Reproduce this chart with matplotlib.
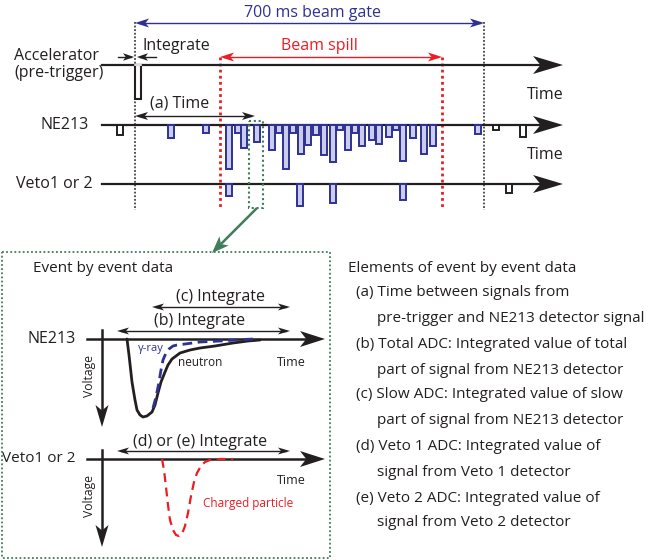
import matplotlib
matplotlib.use("Agg")
import matplotlib.pyplot as plt
from matplotlib.patches import Polygon, Rectangle
import numpy as np

plt.rcParams['font.family'] = ['Open Sans', 'DejaVu Sans']

# ---------------- data (pixel-space schematic) ----------------
GATE = (135, 484)          # 700 ms beam gate start / end
SPILL = (220, 442)         # beam spill start / end
ACC_PULSE_X = 138
ACC_PULSE_DEPTH = 34

ne213_x = [120, 171, 206, 229, 238, 244, 257, 272, 279, 286, 293, 301, 308, 316,
           324, 333, 340, 348, 355, 362, 372, 379, 389, 396, 403, 413, 424, 433,
           478, 496, 523]
ne213_depth = [10, 13, 8, 44, 8, 23, 17, 25, 8, 44, 8, 29, 20, 10,
               30, 37, 5, 25, 8, 21, 15, 19, 12, 5, 36, 13, 29, 21,
               9, 5, 12]
veto_x = [229, 300, 333, 403, 509]
veto_depth = [12, 22, 19, 16, 9]

# schematic waveforms (x, y)
neutron_x = [127, 129, 132, 135, 137, 140, 143, 147, 152, 155, 158, 161, 165, 168, 172, 176, 180, 190, 200, 215, 233, 248, 260]
neutron_y = [339, 355, 382, 400, 410, 415, 417, 416, 412, 405, 393, 382, 372, 365, 359, 356, 353, 350, 348, 346, 343, 341, 340]
gamma_x = [153, 156, 159, 161, 163, 166, 169, 173, 177, 185, 200, 220, 253]
gamma_y = [408, 397, 382, 370, 360, 353, 349, 346, 345, 344, 342, 341, 339]
charged_x = [162, 164, 166, 168, 170, 173, 176, 179, 182, 185, 188, 191, 194, 197, 201, 205, 210, 220, 233]
charged_y = [459, 470, 487, 505, 520, 530, 535, 536, 534, 526, 513, 496, 482, 473, 466, 462, 460, 459, 459]

elements_lines = [
    ("Elements of event by event data", 0),
    ("(a) Time between signals from", 1),
    ("pre-trigger and NE213 detector signal", 2),
    ("(b) Total ADC: Integrated value of total", 1),
    ("part of signal from NE213 detector", 2),
    ("(c) Slow ADC: Integrated value of slow", 1),
    ("part of signal from NE213 detector", 2),
    ("(d) Veto 1 ADC: Integrated value of", 1),
    ("signal from Veto 1 detector", 2),
    ("(e) Veto 2 ADC: Integrated value of", 1),
    ("signal from Veto 2 detector", 2),
]

# ---------------- styles ----------------
BLUE = "#2E3192"
LBLUE = "#C9CCEA"
RED = "#ED1C24"
GREEN = "#3F7D5A"
K = "#231F20"

fig = plt.figure(figsize=(6.61, 5.60), dpi=100)
ax = fig.add_axes([0, 0, 1, 1])
ax.set_xlim(0, 661)
ax.set_ylim(560, 0)
ax.axis('off')


def head(tip, d, length, hw, color, notch=0.25):
    tx, ty = tip
    dx, dy = d
    n = np.hypot(dx, dy)
    dx, dy = dx / n, dy / n
    px, py = -dy, dx
    bx, by = tx - dx * length, ty - dy * length
    nx, ny = tx - dx * length * (1 - notch), ty - dy * length * (1 - notch)
    poly = [(tx, ty), (bx + px * hw, by + py * hw), (nx, ny), (bx - px * hw, by - py * hw)]
    ax.add_patch(Polygon(poly, closed=True, color=color, lw=0, zorder=5))


def darrow(x0, x1, y, color, lw=1.0, L=12, hw=4):
    ax.plot([x0 + 4, x1 - 4], [y, y], color=color, lw=lw, zorder=4)
    head((x0, y), (-1, 0), L, hw, color)
    head((x1, y), (1, 0), L, hw, color)


def axis_line(x0, x1, y, L=30, hw=9, lw=1.6):
    ax.plot([x0, x1 - L * 0.7], [y, y], color=K, lw=lw, zorder=3)
    head((x1, y), (1, 0), L, hw, K)


# ---------------- top timing diagram ----------------
Y_ACC, Y_NE, Y_VETO = 65, 125, 184
X0, X1 = 102, 563

# gate & spill dotted lines
for gx in GATE:
    ax.plot([gx, gx], [22, 210], color="#444444", lw=1.3, ls=(0, (1, 1)), zorder=2)
for sx in SPILL:
    ax.plot([sx, sx], [57, 207], color=RED, lw=2.0, ls=(0, (1, 1.2)), zorder=2)

# blue gate arrow
darrow(GATE[0], GATE[1], 23, BLUE, lw=1.0, L=14, hw=4.5)
ax.text(312, 13, "700 ms beam gate", color=BLUE,
        fontsize=11.5, ha='center', va='center')
# red spill arrow
darrow(SPILL[0], SPILL[1], 57, RED, lw=1.0, L=14, hw=4.5)
ax.text(319, 46, "Beam spill", color=RED, fontsize=11.5, ha='center', va='center')

# accelerator
axis_line(X0, X1, Y_ACC)
ax.add_patch(Rectangle((ACC_PULSE_X - 3, Y_ACC), 6, ACC_PULSE_DEPTH, fill=True,
                       facecolor='white', edgecolor=K, lw=1.5, zorder=4))
ax.plot([ACC_PULSE_X - 3, ACC_PULSE_X + 3], [Y_ACC, Y_ACC], color='white', lw=1.2, zorder=4.5)
ax.plot([118, 131], [57, 57], color=K, lw=1.0)
head((134, 57), (1, 0), 11, 3.8, K)
ax.plot([140, 156], [57, 57], color=K, lw=1.0)
head((137, 57), (-1, 0), 11, 3.8, K)
ax.text(142, 46, "Integrate", fontsize=11.5, ha='left', va='center', color=K)
ax.text(57, 56, "Accelerator", fontsize=11.5, ha='center', va='center', color=K)
ax.text(59, 73, "(pre-trigger)", fontsize=11.5, ha='center', va='center', color=K)
ax.text(527, 95, "Time", fontsize=11.5, ha='left', va='center', color=K)

# NE213
axis_line(X0, X1, Y_NE)
for x, d in zip(ne213_x, ne213_depth):
    inside = GATE[0] < x < GATE[1]
    ec = BLUE if inside else K
    fc = LBLUE if inside else 'white'
    ax.add_patch(Rectangle((x - 2.7, Y_NE), 5.4, d, facecolor=fc, edgecolor=ec, lw=1.4, zorder=4))
darrow(GATE[0], 255, 116, K, lw=1.0, L=13, hw=4)
ax.text(180, 104, "(a) Time", fontsize=11.5, ha='center', va='center', color=K)
ax.text(89, 125, "NE213", fontsize=11.5, ha='right', va='center', color=K)
ax.text(527, 155, "Time", fontsize=11.5, ha='left', va='center', color=K)

# Veto
axis_line(X0, X1, Y_VETO)
for x, d in zip(veto_x, veto_depth):
    inside = GATE[0] < x < GATE[1]
    ec = BLUE if inside else K
    fc = LBLUE if inside else 'white'
    ax.add_patch(Rectangle((x - 2.7, Y_VETO), 5.4, d, facecolor=fc, edgecolor=ec, lw=1.4, zorder=4))
ax.text(93, 184, "Veto1 or 2", fontsize=11.5, ha='right', va='center', color=K)

# green selection box and arrow
ax.add_patch(Rectangle((249, 121), 14, 87, fill=False, edgecolor=GREEN, lw=1.5,
                       ls=(0, (1, 1.3)), zorder=6))
ax.plot([256, 222], [209, 243], color=GREEN, lw=1.8, zorder=6)
head((212, 253), (-1, 1), 17, 6.5, GREEN)

# ---------------- bottom-left event panel ----------------
ax.add_patch(Rectangle((2, 252), 328, 306, fill=False, edgecolor=GREEN, lw=1.3,
                       ls=(0, (1, 1.3)), zorder=6))
ax.text(33, 269, "Event by event data", fontsize=11, ha='left', va='center', color=K)

Y_N2, Y_V2 = 339, 459
# NE213 waveform axes
ax.plot([87, 310], [Y_N2, Y_N2], color=K, lw=1.8, zorder=3)
head((325, Y_N2), (1, 0), 25, 8, K)
ax.plot([102, 102], [330, 415], color=K, lw=1.8, zorder=3)
head((102, 427), (0, 1), 22, 6.5, K)
ax.text(76, Y_N2, "NE213", fontsize=11.5, ha='right', va='center', color=K)
ax.text(89, 376, "Voltage", fontsize=8.7, rotation=90, ha='center', va='center', color=K)
darrow(152, 290, 307, K, lw=1.0, L=12, hw=3.5)
ax.text(220, 297, "(c) Integrate", fontsize=11.5, ha='center', va='center', color=K)
darrow(117, 290, 331, K, lw=1.0, L=12, hw=3.5)
ax.text(200, 321, "(b) Integrate", fontsize=11.5, ha='center', va='center', color=K)
ax.plot(neutron_x, neutron_y, color=K, lw=2.0, zorder=4, solid_capstyle='round')
ax.plot(gamma_x, gamma_y, color=BLUE, lw=2.0, ls=(0, (3.5, 2)), zorder=4.5)
ax.text(151, 349, "γ-ray", fontsize=8, ha='center', va='center', color=BLUE)
ax.text(178, 363, "neutron", fontsize=8.5, ha='left', va='center', color=K)
ax.text(277, 362, "Time", fontsize=9, ha='left', va='center', color=K)

# Veto waveform axes
ax.plot([87, 310], [Y_V2, Y_V2], color=K, lw=1.8, zorder=3)
head((325, Y_V2), (1, 0), 25, 8, K)
ax.plot([102, 102], [450, 535], color=K, lw=1.8, zorder=3)
head((102, 547), (0, 1), 22, 6.5, K)
ax.text(76, Y_V2, "Veto1 or 2", fontsize=11, ha='right', va='center', color=K)
ax.text(89, 496, "Voltage", fontsize=8.7, rotation=90, ha='center', va='center', color=K)
darrow(117, 290, 451, K, lw=1.0, L=12, hw=3.5)
ax.text(200, 442, "(d) or (e) Integrate", fontsize=11.5, ha='center', va='center', color=K)
ax.plot(charged_x, charged_y, color=RED, lw=1.6, ls=(0, (4, 2.5)), zorder=4)
ax.text(203, 503, "Charged particle", fontsize=8.5, ha='left', va='center', color=RED)
ax.text(277, 480, "Time", fontsize=9, ha='left', va='center', color=K)

# ---------------- right text ----------------
indent = {0: 348, 1: 356, 2: 377}
ys = [268, 293, 319, 344, 370, 395, 421, 447, 472, 498, 523]
for (txt, lvl), y in zip(elements_lines, ys):
    ax.text(indent[lvl], y, txt, fontsize=11.0, ha='left', va='center', color=K)

fig.savefig("out.png", dpi=100)
